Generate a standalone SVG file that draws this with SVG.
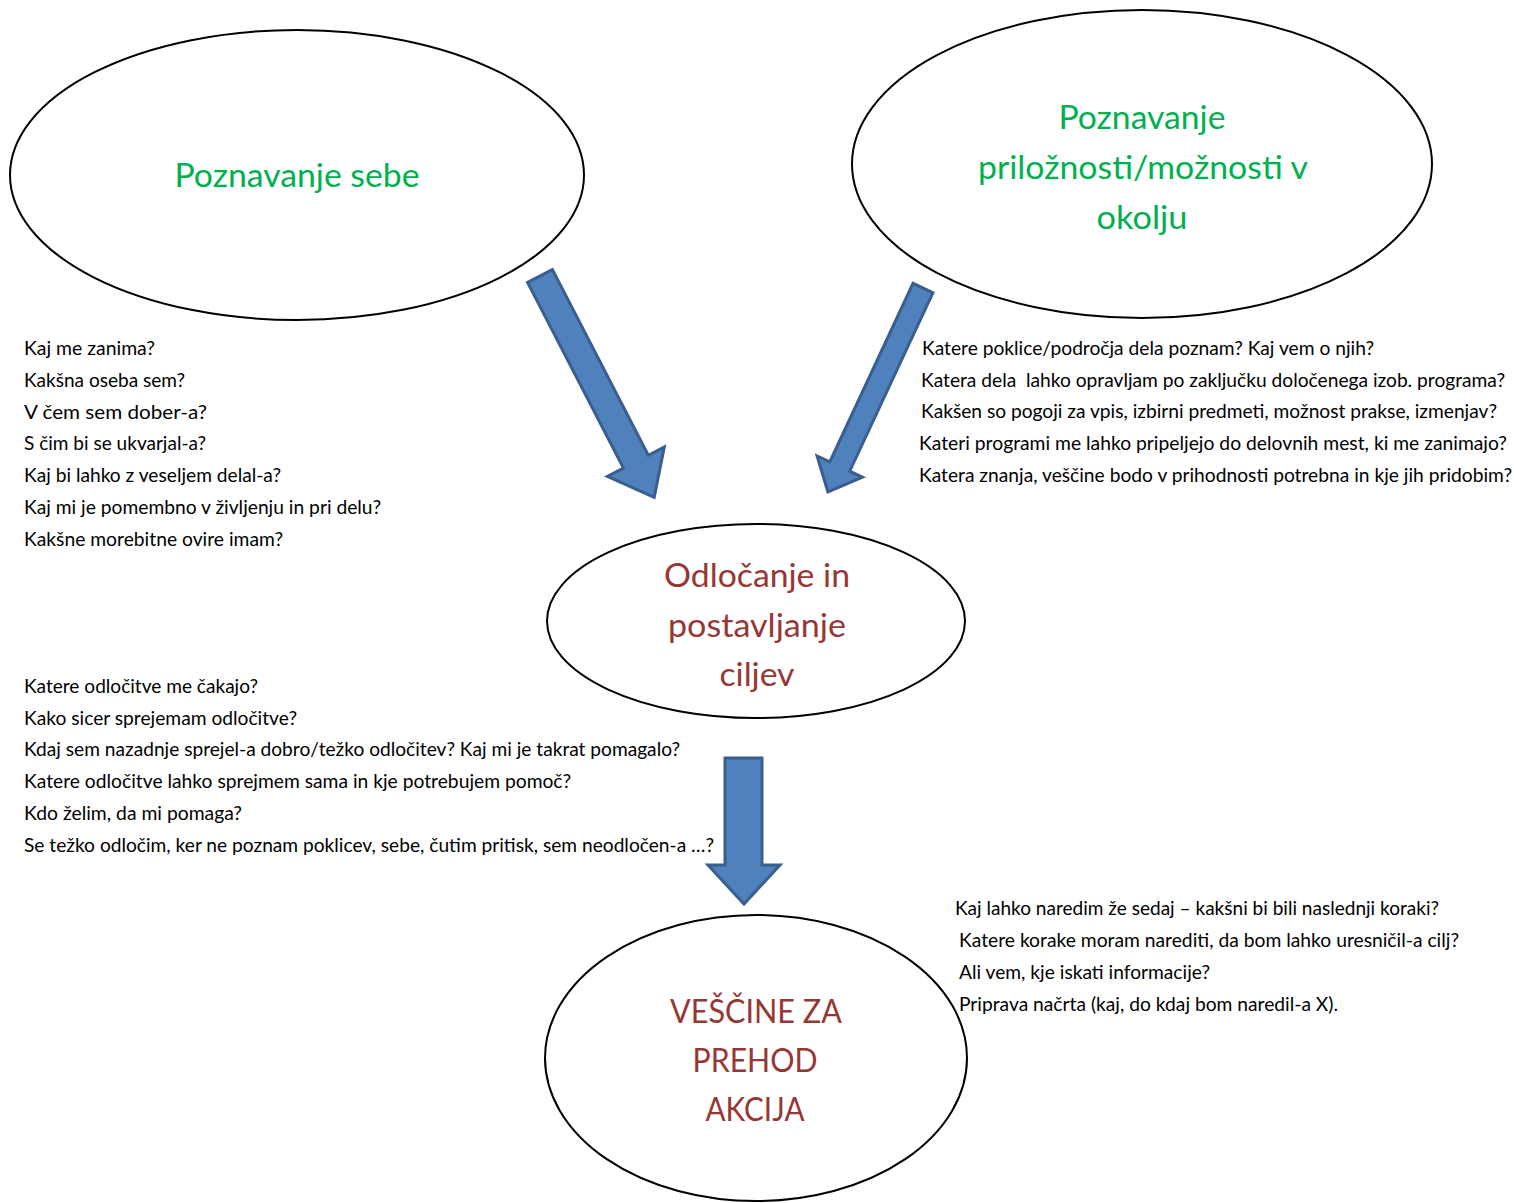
<svg xmlns="http://www.w3.org/2000/svg" width="1514" height="1203" viewBox="0 0 1514 1203">
<style>
.bg{fill:#ffffff}
.node ellipse{fill:#ffffff;stroke:#000000;stroke-width:2}
.title{font-family:Lato,"Open Sans","Liberation Sans",sans-serif;font-size:32px;text-anchor:middle}
.green{fill:#00B050}
.red{fill:#953735}
.q{font-family:Lato,"Open Sans","Liberation Sans",sans-serif;font-size:19px;fill:#000000}
.arrow{fill:#4F81BD;stroke:#3A5F8E;stroke-width:3;stroke-linejoin:miter}
</style>
<rect class="bg" x="0" y="0" width="1514" height="1203"/>
<g id="connectors">
<path class="arrow" d="M0,-14 L209,-14 L209,-32 L249,0 L209,32 L209,14 L0,14 Z" transform="translate(540,276) rotate(62.7)"/>
<path class="arrow" d="M0,-11 L197,-11 L197,-25 L225,0 L197,25 L197,11 L0,11 Z" transform="translate(923,288) rotate(115)"/>
<polygon class="arrow" points="725,758 762,758 762,865 780,865 744,904 708,865 725,865"/>
</g>
<g id="node-sebe" class="node">
<ellipse cx="297" cy="175" rx="287" ry="145"/>
<text class="title green" x="297" y="187" textLength="245" lengthAdjust="spacingAndGlyphs">Poznavanje sebe</text>
</g>
<g id="node-okolje" class="node">
<ellipse cx="1142" cy="164" rx="290" ry="154"/>
<text class="title green" x="1142" y="129" textLength="167" lengthAdjust="spacingAndGlyphs">Poznavanje</text>
<text class="title green" x="1143" y="179" textLength="330" lengthAdjust="spacingAndGlyphs">priložnosti/možnosti v</text>
<text class="title green" x="1142" y="229" textLength="91" lengthAdjust="spacingAndGlyphs">okolju</text>
</g>
<g id="node-odlocanje" class="node">
<ellipse cx="756" cy="621" rx="209" ry="97"/>
<text class="title red" x="757" y="587" textLength="186" lengthAdjust="spacingAndGlyphs">Odločanje in</text>
<text class="title red" x="757" y="637" textLength="178" lengthAdjust="spacingAndGlyphs">postavljanje</text>
<text class="title red" x="757" y="686" textLength="75" lengthAdjust="spacingAndGlyphs">ciljev</text>
</g>
<g id="node-vescine" class="node">
<ellipse cx="756" cy="1058" rx="211" ry="143"/>
<text class="title red" x="756" y="1023" textLength="172" lengthAdjust="spacingAndGlyphs">VEŠČINE ZA</text>
<text class="title red" x="755" y="1072" textLength="125" lengthAdjust="spacingAndGlyphs">PREHOD</text>
<text class="title red" x="755" y="1121" textLength="99" lengthAdjust="spacingAndGlyphs">AKCIJA</text>
</g>
<g id="text-sebe" class="q">
<text x="24" y="355" textLength="131" lengthAdjust="spacingAndGlyphs">Kaj me zanima?</text>
<text x="24" y="387" textLength="161" lengthAdjust="spacingAndGlyphs">Kakšna oseba sem?</text>
<text x="24" y="419" textLength="183" lengthAdjust="spacingAndGlyphs">V čem sem dober-a?</text>
<text x="24" y="450" textLength="182" lengthAdjust="spacingAndGlyphs">S čim bi se ukvarjal-a?</text>
<text x="24" y="482" textLength="257" lengthAdjust="spacingAndGlyphs">Kaj bi lahko z veseljem delal-a?</text>
<text x="24" y="514" textLength="357" lengthAdjust="spacingAndGlyphs">Kaj mi je pomembno v življenju in pri delu?</text>
<text x="24" y="546" textLength="259" lengthAdjust="spacingAndGlyphs">Kakšne morebitne ovire imam?</text>
</g>
<g id="text-okolje" class="q">
<text x="922" y="355" textLength="452" lengthAdjust="spacingAndGlyphs">Katere poklice/področja dela poznam? Kaj vem o njih?</text>
<text x="921" y="387" textLength="584" lengthAdjust="spacingAndGlyphs" xml:space="preserve">Katera dela  lahko opravljam po zaključku določenega izob. programa?</text>
<text x="921" y="418" textLength="576" lengthAdjust="spacingAndGlyphs">Kakšen so pogoji za vpis, izbirni predmeti, možnost prakse, izmenjav?</text>
<text x="919" y="450" textLength="588" lengthAdjust="spacingAndGlyphs">Kateri programi me lahko pripeljejo do delovnih mest, ki me zanimajo?</text>
<text x="919" y="482" textLength="593" lengthAdjust="spacingAndGlyphs">Katera znanja, veščine bodo v prihodnosti potrebna in kje jih pridobim?</text>
</g>
<g id="text-odlocanje" class="q">
<text x="24" y="693" textLength="234" lengthAdjust="spacingAndGlyphs">Katere odločitve me čakajo?</text>
<text x="24" y="725" textLength="273" lengthAdjust="spacingAndGlyphs">Kako sicer sprejemam odločitve?</text>
<text x="24" y="756" textLength="656" lengthAdjust="spacingAndGlyphs">Kdaj sem nazadnje sprejel-a dobro/težko odločitev? Kaj mi je takrat pomagalo?</text>
<text x="24" y="788" textLength="547" lengthAdjust="spacingAndGlyphs">Katere odločitve lahko sprejmem sama in kje potrebujem pomoč?</text>
<text x="24" y="820" textLength="218" lengthAdjust="spacingAndGlyphs">Kdo želim, da mi pomaga?</text>
<text x="24" y="852" textLength="690" lengthAdjust="spacingAndGlyphs">Se težko odločim, ker ne poznam poklicev, sebe, čutim pritisk, sem neodločen-a …?</text>
</g>
<g id="text-vescine" class="q">
<text x="955" y="915" textLength="484" lengthAdjust="spacingAndGlyphs">Kaj lahko naredim že sedaj – kakšni bi bili naslednji koraki?</text>
<text x="959" y="947" textLength="500" lengthAdjust="spacingAndGlyphs">Katere korake moram narediti, da bom lahko uresničil-a cilj?</text>
<text x="959" y="979" textLength="251" lengthAdjust="spacingAndGlyphs">Ali vem, kje iskati informacije?</text>
<text x="959" y="1011" textLength="379" lengthAdjust="spacingAndGlyphs">Priprava načrta (kaj, do kdaj bom naredil-a X).</text>
</g>
</svg>
